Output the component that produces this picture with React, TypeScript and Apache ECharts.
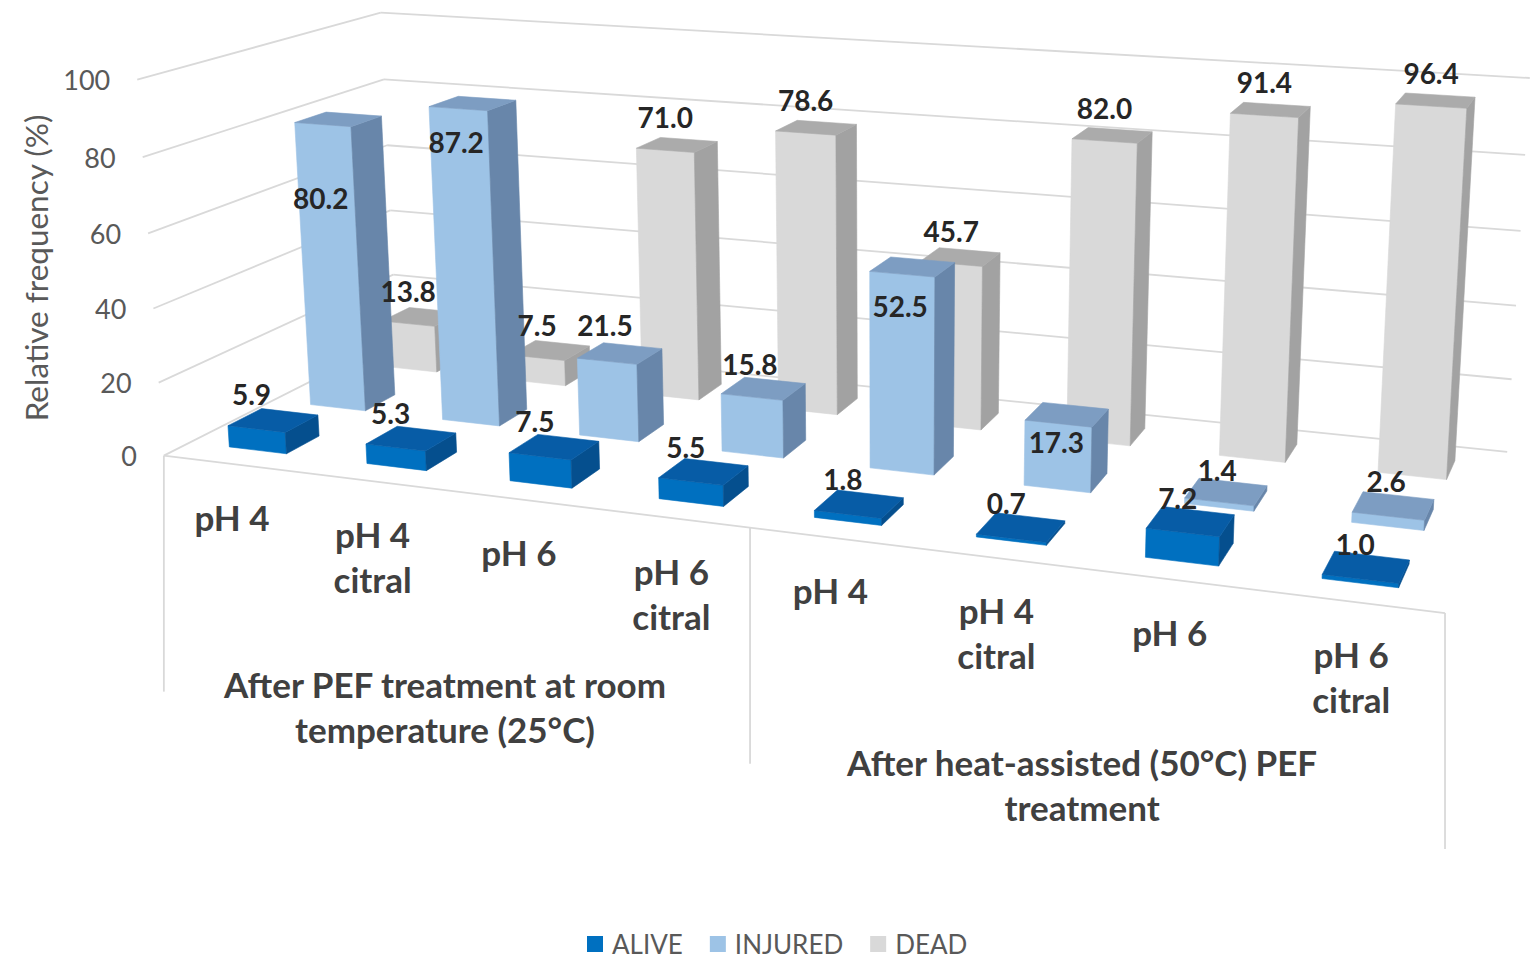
import React, { useEffect, useRef } from "react";
import * as echarts from "echarts";

// ---------------- data ----------------
const categories = [
  "pH 4", "pH 4\ncitral", "pH 6", "pH 6\ncitral",
  "pH 4", "pH 4\ncitral", "pH 6", "pH 6\ncitral",
];
const groups = [
  "After PEF treatment at room\ntemperature (25°C)",
  "After heat-assisted (50°C) PEF\ntreatment",
];
const groupSize = 4;
const seriesNames = ["ALIVE", "INJURED", "DEAD"];
const alive = [5.9, 5.3, 7.5, 5.5, 1.8, 0.7, 7.2, 1.0];
const injured = [80.2, 87.2, 21.5, 15.8, 52.5, 17.3, 1.4, 2.6];
const dead = [13.8, 7.5, 71.0, 78.6, 45.7, 82.0, 91.4, 96.4];
const yTicks = [0, 20, 40, 60, 80, 100];
const yTitle = "Relative frequency (%)";

// ---------------- layout / style ----------------
const FONT = "Lato, 'Open Sans', sans-serif";
const BAR_WIDTH = 0.42; // fraction of a category band
const BAR_DEPTH = 0.4; // fraction of a series row
const ROWS = 3;
const BOX_DROP = 236;
const palettes = [
  { front: "#0070C0", top: "#075CA6", side: "#054F8E" },
  { front: "#9DC3E6", top: "#7D9DC2", side: "#6886AA" },
  { front: "#D9D9D9", top: "#ABABAB", side: "#A2A2A2" },
];
const labelDx = [-5, -2, 0];
const aliveLabelDy = [-35, -35, -35, -35, -35, -35, -35, -35];
const injuredLabelDy = [73, 33, -36, -33, 32, 18, -32, -35];
const deadLabelDy = [-33, -33, -33, -33, -33, -33, -33, -33];

// camera calibration of the plot box: [X 0..1 across categories, Y 0..1 of value axis, Z 0 front .. 1 back wall] -> page px
const CALIB: number[][] = [
  [0, 0, 0, 164, 456], [0, 0.2, 0, 158, 383], [0, 0.4, 0, 153, 308],
  [0, 0.6, 0, 148, 233], [0, 0.8, 0, 143, 157], [0, 1, 0, 138, 80],
  [0, 1, 1, 380, 13], [0, 0.8, 1, 384, 79], [0, 0, 1, 397, 338],
  [1, 0, 0, 1445, 613], [1, 0, 1, 1507, 452], [1, 1, 1, 1530, 78],
];

function solveLinear(M: number[][], r: number[]): number[] {
  const n = r.length;
  const A = M.map((row, i) => [...row, r[i]]);
  for (let c = 0; c < n; c++) {
    let p = c;
    for (let k = c + 1; k < n; k++) if (Math.abs(A[k][c]) > Math.abs(A[p][c])) p = k;
    const tmp = A[c]; A[c] = A[p]; A[p] = tmp;
    for (let k = 0; k < n; k++) {
      if (k === c) continue;
      const f = A[k][c] / A[c][c];
      for (let j = c; j <= n; j++) A[k][j] -= f * A[c][j];
    }
  }
  return A.map((row, i) => row[n] / row[i]);
}

function fitCamera(pts: number[][]) {
  const rows: number[][] = [];
  const rhs: number[] = [];
  for (const [X, Y, Z, px, py] of pts) {
    const u = px / 1000, v = py / 1000;
    rows.push([X, Y, Z, 1, 0, 0, 0, 0, -u * X, -u * Y, -u * Z]); rhs.push(u);
    rows.push([0, 0, 0, 0, X, Y, Z, 1, -v * X, -v * Y, -v * Z]); rhs.push(v);
  }
  const n = 11;
  const M = Array.from({ length: n }, () => new Array(n).fill(0));
  const r = new Array(n).fill(0);
  rows.forEach((a, k) => {
    for (let i = 0; i < n; i++) {
      r[i] += a[i] * rhs[k];
      for (let j = 0; j < n; j++) M[i][j] += a[i] * a[j];
    }
  });
  const p = solveLinear(M, r);
  return (X: number, Y: number, Z: number): number[] => {
    const w = p[8] * X + p[9] * Y + p[10] * Z + 1;
    return [
      (1000 * (p[0] * X + p[1] * Y + p[2] * Z + p[3])) / w,
      (1000 * (p[4] * X + p[5] * Y + p[6] * Z + p[7])) / w,
    ];
  };
}

const project = fitCamera(CALIB);

function helpers(params: any, api: any) {
  const cs = params.coordSys;
  const band = api.size([1, 0])[0] / cs.width;
  const xf = (cat: number) => (api.coord([cat, 0])[0] - cs.x) / cs.width;
  const yf = (val: number) => (cs.y + cs.height - api.coord([0, val])[1]) / cs.height;
  return { band, xf, yf };
}

function barSeries(name: string, values: number[], row: number, dys: number[]) {
  const pal = palettes[row];
  return {
    type: "custom",
    name,
    coordinateSystem: "cartesian2d",
    clip: false,
    itemStyle: { color: pal.front },
    encode: { x: 0, y: 1 },
    data: values.map((v, i) => [i, v]),
    renderItem: (params: any, api: any) => {
      const { band, xf, yf } = helpers(params, api);
      const i = api.value(0);
      const val = api.value(1);
      const xc = xf(i);
      const h = yf(val);
      const x0 = xc - (band * BAR_WIDTH) / 2;
      const x1 = xc + (band * BAR_WIDTH) / 2;
      const zc = (row + 0.5) / ROWS;
      const hd = BAR_DEPTH / ROWS / 2;
      const z0 = zc - hd, z1 = zc + hd;
      const base = 10 + (ROWS - row) * 20 + i;
      const poly = (pts: number[][], fill: string) => ({
        type: "polygon",
        z2: base,
        shape: { points: pts.map((q) => project(q[0], q[1], q[2])) },
        style: { fill, stroke: fill, lineWidth: 0.6 },
      });
      const anchor = project(xc, h, z0);
      return {
        type: "group",
        children: [
          poly([[x0, 0, z0], [x1, 0, z0], [x1, h, z0], [x0, h, z0]], pal.front),
          poly([[x1, 0, z0], [x1, 0, z1], [x1, h, z1], [x1, h, z0]], pal.side),
          poly([[x0, h, z0], [x1, h, z0], [x1, h, z1], [x0, h, z1]], pal.top),
          {
            type: "text",
            z2: 1000,
            style: {
              text: val.toFixed(1),
              x: anchor[0] + labelDx[row],
              y: anchor[1] + dys[i],
              align: "center",
              verticalAlign: "middle",
              fontSize: 28,
              fontWeight: "bold",
              fontFamily: FONT,
              fill: "#262626",
            },
          },
        ],
      };
    },
  };
}

const frameSeries = {
  type: "custom",
  name: "frame",
  coordinateSystem: "cartesian2d",
  clip: false,
  silent: true,
  data: [[0, 0]],
  renderItem: (params: any, api: any) => {
    const { band, xf, yf } = helpers(params, api);
    const N = categories.length;
    const left = xf(0) - band / 2;
    const right = xf(N - 1) + band / 2;
    const children: any[] = [];
    const line = (a: number[], b: number[]) => ({
      type: "line",
      z2: -10,
      shape: { x1: a[0], y1: a[1], x2: b[0], y2: b[1] },
      style: { stroke: "#D9D9D9", lineWidth: 1.8 },
    });
    const labelStyle = {
      align: "center",
      verticalAlign: "top",
      fontSize: 35,
      fontWeight: "bold",
      fontFamily: FONT,
      fill: "#404040",
      lineHeight: 45,
    };
    yTicks.forEach((t) => {
      const y = yf(t);
      const a = project(left, y, 0);
      const b = project(left, y, 1);
      const c = project(right, y, 1);
      children.push(line(a, b), line(b, c));
      children.push({
        type: "text",
        z2: 5,
        style: {
          text: String(t), x: a[0] - 27, y: a[1], align: "right", verticalAlign: "middle",
          fontSize: 27, fontFamily: FONT, fill: "#595959",
        },
      });
    });
    children.push(line(project(left, 0, 0), project(right, 0, 0)));
    for (let g = 0; g <= groups.length; g++) {
      const xg = left + g * groupSize * band;
      const p = project(xg, 0, 0);
      children.push(line(p, [p[0], p[1] + BOX_DROP]));
    }
    categories.forEach((c, i) => {
      const p = project(xf(i), 0, 0);
      children.push({ type: "text", z2: 5, style: { ...labelStyle, text: c, x: p[0], y: p[1] + 30 } });
    });
    groups.forEach((gname, g) => {
      const p = project(left + (g + 0.5) * groupSize * band, 0, 0);
      children.push({ type: "text", z2: 5, style: { ...labelStyle, text: gname, x: p[0], y: p[1] + 171 } });
    });
    children.push({
      type: "text",
      z2: 5,
      x: 36,
      y: 268,
      rotation: Math.PI / 2,
      style: {
        text: yTitle, x: 0, y: 0, align: "center", verticalAlign: "middle",
        fontSize: 31.5, fontFamily: FONT, fill: "#595959",
      },
    });
    return { type: "group", children };
  },
};

export default function App() {
  const ref = useRef<HTMLDivElement>(null);
  useEffect(() => {
    document.body.style.margin = "0";
    if (!ref.current) return;
    const chart = echarts.init(ref.current, null, { renderer: "svg" });
    chart.setOption({
      animation: false,
      backgroundColor: "#ffffff",
      grid: { left: 100, right: 100, top: 100, bottom: 100, show: false },
      xAxis: { type: "category", data: categories, show: false },
      yAxis: { type: "value", min: 0, max: 100, interval: 20, show: false },
      legend: {
        data: seriesNames,
        left: 587,
        top: 931,
        padding: 0,
        icon: "rect",
        itemWidth: 16,
        itemHeight: 16,
        itemGap: 27,
        textStyle: { fontSize: 26, color: "#595959", fontFamily: FONT, padding: [0, 0, 0, 4] },
      },
      series: [
        frameSeries,
        barSeries(seriesNames[0], alive, 0, aliveLabelDy),
        barSeries(seriesNames[1], injured, 1, injuredLabelDy),
        barSeries(seriesNames[2], dead, 2, deadLabelDy),
      ],
    });
    return () => chart.dispose();
  }, []);
  return <div ref={ref} style={{ width: 1535, height: 961 }} />;
}
